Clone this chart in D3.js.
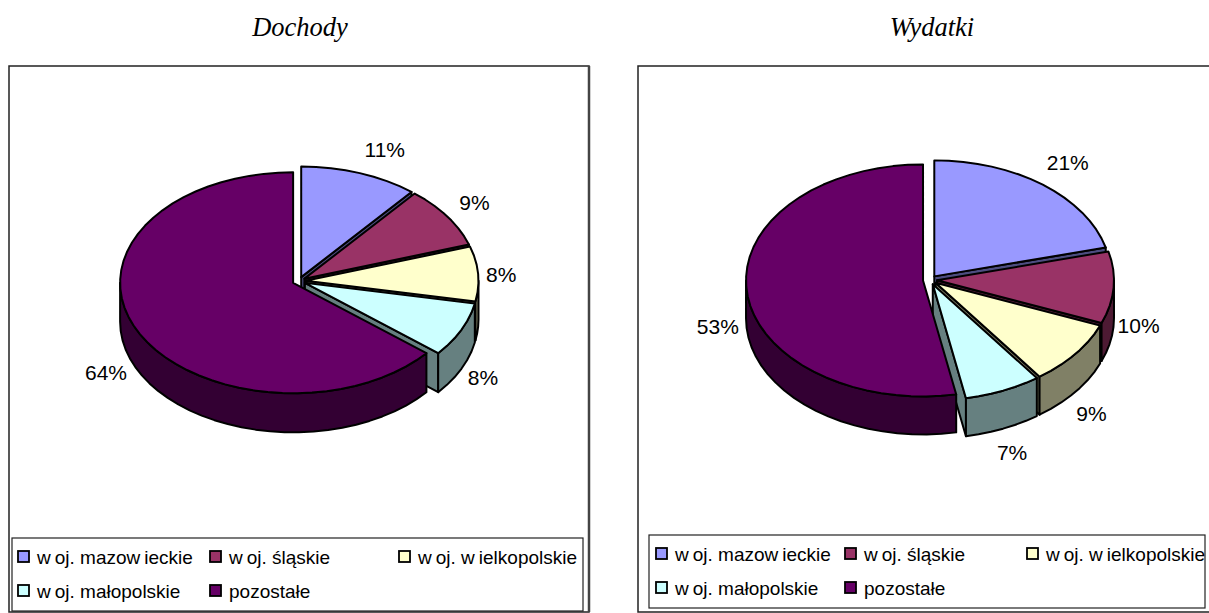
<!DOCTYPE html>
<html>
<head>
<meta charset="utf-8">
<script src="https://cdnjs.cloudflare.com/ajax/libs/d3/7.8.5/d3.min.js"></script>
<style>
  html, body { margin: 0; padding: 0; background: #fff; overflow: hidden; }
  svg { display: block; }
</style>
</head>
<body>
<svg id="chart" width="1209" height="613"></svg>
<script>
// Regional shares of budget income and spending, as two exploded 3D pies.
const regions = ["woj. mazowieckie", "woj. śląskie", "woj. wielkopolskie", "woj. małopolskie", "pozostałe"];
const incomeShares = [11, 9, 8, 8, 64];
const spendingShares = [21, 10, 9, 7, 53];
const sliceColors = ["#9999ff", "#993366", "#ffffcc", "#ccffff", "#660066"];

// Layout of each panel. Label nudges are offsets from the rim point of each slice.
const incomePanel = {
  title: "Dochody", titleX: 300, values: incomeShares,
  frame: { x: 9, y: 66, w: 580, h: 546, rightEdge: 2.5 },
  cx: 299, cy: 281, rx: 173, ry: 110.5, depth: 39, explode: 6.5,
  labelNudge: [[25, -23], [27, -13.5], [23, 1], [21.5, 48], [-30.6, 43]],
  legend: { x: 12, y: 538, w: 571, h: 73, columns: [18, 210, 399] }
};
const spendingPanel = {
  title: "Wydatki", titleX: 932, values: spendingShares,
  frame: { x: 638, y: 66, w: 575, h: 546, rightEdge: 0 },
  cx: 930, cy: 280, rx: 177, ry: 116, depth: 38, explode: 7,
  labelNudge: [[25, -22], [25, 38], [16, 60], [9, 62], [-29, 36]],
  legend: { x: 649, y: 535, w: 556, h: 73, columns: [656, 845, 1027] }
};

const svg = d3.select("#chart");
const pie = d3.pie().sort(null).value(d => d);
const line = d3.line();
const halfShade = c => { const r = d3.rgb(c); return d3.rgb(r.r * 0.5, r.g * 0.5, r.b * 0.5).formatHex(); };
const STEP = Math.PI / 36;

// Angles run clockwise from twelve o'clock, as d3.pie gives them.
function samples(a0, a1) {
  const n = Math.max(1, Math.ceil((a1 - a0) / STEP));
  return d3.range(n + 1).map(i => a0 + (a1 - a0) * i / n);
}

function drawPanel(p) {
  const g = svg.append("g");
  const f = p.frame;
  g.append("rect").attr("x", f.x).attr("y", f.y).attr("width", f.w).attr("height", f.h)
    .attr("fill", "#fff").attr("stroke", "#222").attr("stroke-width", 1.5);
  if (f.rightEdge) {
    g.append("line").attr("x1", f.x + f.w).attr("x2", f.x + f.w).attr("y1", f.y).attr("y2", f.y + f.h)
      .attr("stroke", "#444").attr("stroke-width", f.rightEdge);
  }

  g.append("text").attr("x", p.titleX).attr("y", 35.5).attr("text-anchor", "middle")
    .attr("font-family", "'Liberation Serif', serif").attr("font-style", "italic")
    .attr("font-size", 26.5).text(p.title);

  const arcs = pie(p.values);
  const ratioX = d3.scaleLinear().domain([0, 1]).range([0, p.rx]);
  const ratioY = d3.scaleLinear().domain([0, 1]).range([0, p.ry]);
  const slices = arcs.map((a, i) => {
    const mid = (a.startAngle + a.endAngle) / 2;
    const ox = p.cx + p.explode * Math.sin(mid);
    const oy = p.cy - p.explode * (p.ry / p.rx) * Math.cos(mid);
    const at = t => [ox + ratioX(Math.sin(t)), oy - ratioY(Math.cos(t))];
    return { a, i, mid, ox, oy, at };
  });

  // Back-to-front painting: the large remainder slice goes over its neighbours.
  slices.forEach(s => {
    const side = halfShade(sliceColors[s.i]);
    const down = pt => [pt[0], pt[1] + p.depth];
    const wall = pts => g.append("path")
      .attr("d", line(pts) + "Z").attr("fill", side)
      .attr("stroke", "#000").attr("stroke-width", 2).attr("stroke-linejoin", "round");

    // Radial side walls that face the viewer.
    const centre = [s.ox, s.oy];
    if (Math.sin(s.a.endAngle) > 0.001) {
      const tip = s.at(s.a.endAngle);
      wall([centre, tip, down(tip), down(centre)]);
    }
    if (Math.sin(s.a.startAngle) < -0.001) {
      const tip = s.at(s.a.startAngle);
      wall([centre, tip, down(tip), down(centre)]);
    }
    // Outer rim wall, limited to the front half of the ellipse.
    const lo = Math.max(s.a.startAngle, Math.PI / 2);
    const hi = Math.min(s.a.endAngle, Math.PI * 1.5);
    if (hi > lo) {
      const rim = samples(lo, hi).map(s.at);
      wall(rim.concat(rim.slice().reverse().map(down)));
    }
    // Top face.
    const top = [centre].concat(samples(s.a.startAngle, s.a.endAngle).map(s.at));
    g.append("path").attr("d", line(top) + "Z").attr("fill", sliceColors[s.i])
      .attr("stroke", "#000").attr("stroke-width", 2).attr("stroke-linejoin", "round");
  });

  // Percentage labels.
  slices.forEach(s => {
    const n = p.labelNudge[s.i];
    const rimX = s.ox + p.rx * Math.sin(s.mid);
    const rimY = s.oy - p.ry * Math.cos(s.mid);
    g.append("text").attr("x", rimX + n[0]).attr("y", rimY + n[1] + 7)
      .attr("text-anchor", "middle")
      .attr("font-family", "'Liberation Sans', Arial, sans-serif").attr("font-size", 21)
      .text(s.a.value + "%");
  });

  // Legend box: three columns on the first row, two on the second.
  const L = p.legend;
  g.append("rect").attr("x", L.x).attr("y", L.y).attr("width", L.w).attr("height", L.h)
    .attr("fill", "#fff").attr("stroke", "#222").attr("stroke-width", 1.2);
  regions.forEach((name, i) => {
    const row = i < 3 ? 0 : 1;
    const col = i < 3 ? i : i - 3;
    const x = L.columns[col];
    const y = L.y + 18.5 + row * 34;
    g.append("rect").attr("x", x).attr("y", y - 5.5).attr("width", 11).attr("height", 11)
      .attr("fill", sliceColors[i]).attr("stroke", "#000").attr("stroke-width", 1.8);
    const t = g.append("text").attr("x", x + 19).attr("y", y + 7)
      .attr("font-family", "'Liberation Sans', Arial, sans-serif").attr("font-size", 19);
    // The face leaves a small gap after each "w".
    name.split("w").forEach((part, k) => {
      if (k === 0) t.append("tspan").text(part);
      else t.append("tspan").text("w");
      if (k > 0) t.append("tspan").attr("dx", 4).text(part);
    });
  });
}

drawPanel(incomePanel);
drawPanel(spendingPanel);
</script>
</body>
</html>
